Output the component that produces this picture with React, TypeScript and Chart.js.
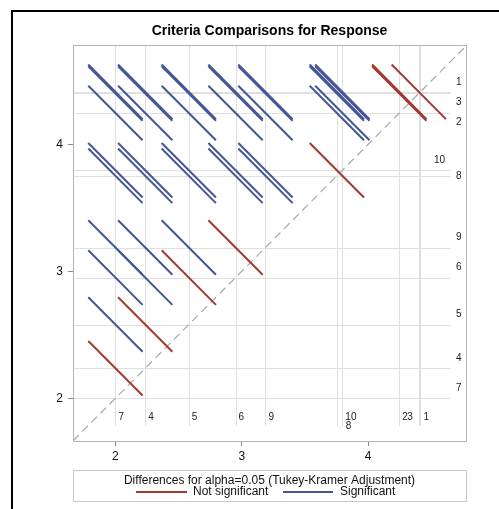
import React, { useEffect, useRef } from 'react';
import { Chart, registerables } from 'chart.js';

Chart.register(...registerables);

// ---- data ----
const groups = ['1', '2', '3', '4', '5', '6', '7', '8', '9', '10'];
const lsMeans = [4.415, 4.248, 4.402, 2.236, 2.581, 2.951, 2.0, 3.753, 3.188, 3.797];
const ciHalfWidth = 0.43; // Tukey-Kramer adjusted half-width of the difference CI
const xRange = [1.664, 4.776];
const yRange = [1.663, 4.784];
const axisTicks = [2, 3, 4];
const titleText = 'Criteria Comparisons for Response';
const legendTitle = 'Differences for alpha=0.05 (Tukey-Kramer Adjustment)';
const legendLabels = ['Not significant', 'Significant'];

const RED = '#A23A2E';
const BLUE = '#445694';
const FONT = '"Liberation Sans", Arial, sans-serif';

// label placement tweaks (layout only)
const bottomLabelShift: Record<string, [number, number]> = {
  '8': [6, 9],
  '3': [-14.5, 0],
};
const rightLabelShift: Record<string, [number, number]> = {
  '10': [-22, -10],
  '8': [0, 0],
  '2': [0, 9],
  '3': [0, 9],
};

function buildDatasets() {
  const sets: any[] = [];
  const half = ciHalfWidth / 2;
  for (let i = 0; i < groups.length; i++) {
    for (let j = i + 1; j < groups.length; j++) {
      const lo = Math.min(lsMeans[i], lsMeans[j]);
      const hi = Math.max(lsMeans[i], lsMeans[j]);
      const sig = hi - lo > ciHalfWidth;
      sets.push({
        label: groups[i] + '-' + groups[j],
        data: [
          { x: lo - half, y: hi + half },
          { x: lo + half, y: hi - half },
        ],
        borderColor: sig ? BLUE : RED,
        backgroundColor: sig ? BLUE : RED,
        borderWidth: 2,
        pointRadius: 0,
        showLine: true,
        order: 1,
      });
    }
  }
  const dMin = Math.max(xRange[0], yRange[0]);
  const dMax = Math.min(xRange[1], yRange[1]);
  sets.push({
    label: 'diag',
    data: [
      { x: dMin, y: dMin },
      { x: dMax, y: dMax },
    ],
    borderColor: '#a8a8a8',
    borderWidth: 1.2,
    borderDash: [8, 5],
    pointRadius: 0,
    showLine: true,
    order: 2,
  });
  return sets;
}

const decorPlugin = {
  id: 'decor',
  beforeDatasetsDraw(chart: any) {
    const { ctx, chartArea: a, scales } = chart;
    ctx.save();
    ctx.strokeStyle = '#e0e0e0';
    ctx.lineWidth = 1;
    lsMeans.forEach((m) => {
      const x = Math.round(scales.x.getPixelForValue(m)) + 0.5;
      const y = Math.round(scales.y.getPixelForValue(m)) + 0.5;
      ctx.beginPath();
      ctx.moveTo(x, a.top);
      ctx.lineTo(x, a.bottom - 15);
      ctx.stroke();
      ctx.beginPath();
      ctx.moveTo(a.left, y);
      ctx.lineTo(a.right - 15, y);
      ctx.stroke();
    });
    ctx.restore();
  },
  afterDatasetsDraw(chart: any) {
    const { ctx, chartArea: a, scales } = chart;
    ctx.save();
    ctx.fillStyle = '#222';
    ctx.font = '10px ' + FONT;
    ctx.textAlign = 'left';
    ctx.textBaseline = 'middle';
    groups.forEach((g, i) => {
      const m = lsMeans[i];
      const x = scales.x.getPixelForValue(m);
      const y = scales.y.getPixelForValue(m);
      const bs = bottomLabelShift[g] || [0, 0];
      ctx.fillText(g, x + 3 + bs[0], a.bottom - 24 + bs[1]);
      const rs = rightLabelShift[g] || [0, -10];
      ctx.fillText(g, a.right - 10 + rs[0], y + rs[1]);
    });
    // plot border
    ctx.strokeStyle = '#b4b4b4';
    ctx.lineWidth = 1;
    ctx.strokeRect(a.left + 0.5, a.top + 0.5, a.right - a.left, a.bottom - a.top);
    ctx.restore();
  },
  afterDraw(chart: any) {
    const { ctx, chartArea: a } = chart;
    ctx.save();
    // outer frame
    ctx.strokeStyle = '#000';
    ctx.lineWidth = 2;
    ctx.beginPath();
    ctx.moveTo(12, 600);
    ctx.lineTo(12, 11);
    ctx.lineTo(600, 11);
    ctx.stroke();
    // title
    const cx = (a.left + a.right) / 2;
    ctx.fillStyle = '#000';
    ctx.font = 'bold 14px ' + FONT;
    ctx.textAlign = 'center';
    ctx.textBaseline = 'middle';
    ctx.fillText(titleText, cx, 31);
    // legend box
    ctx.strokeStyle = '#c8c8c8';
    ctx.lineWidth = 1;
    ctx.strokeRect(a.left + 0.5, 470.5, a.right - a.left, 31);
    ctx.font = '12px ' + FONT;
    ctx.fillStyle = '#111';
    ctx.fillText(legendTitle, cx, 480.5);
    const ly = 492;
    ctx.lineWidth = 2;
    ctx.strokeStyle = RED;
    ctx.beginPath();
    ctx.moveTo(136, ly);
    ctx.lineTo(187, ly);
    ctx.stroke();
    ctx.strokeStyle = BLUE;
    ctx.beginPath();
    ctx.moveTo(283, ly);
    ctx.lineTo(333, ly);
    ctx.stroke();
    ctx.textAlign = 'left';
    ctx.fillText(legendLabels[0], 193, ly);
    ctx.fillText(legendLabels[1], 340, ly);
    ctx.restore();
  },
};

export default function App() {
  const ref = useRef<HTMLCanvasElement>(null);
  useEffect(() => {
    if (!ref.current) return;
    const tickFont = { family: FONT, size: 12 };
    const chart = new Chart(ref.current, {
      type: 'scatter',
      data: { datasets: buildDatasets() },
      options: {
        animation: false,
        responsive: false,
        events: [],
        layout: { padding: { left: 33, right: 33, top: 45, bottom: 43 } },
        plugins: { legend: { display: false }, title: { display: false }, tooltip: { enabled: false } },
        scales: {
          x: {
            type: 'linear',
            min: xRange[0],
            max: xRange[1],
            afterBuildTicks: (s: any) => {
              s.ticks = axisTicks.map((v) => ({ value: v }));
            },
            afterFit: (s: any) => {
              s.height = 25;
            },
            grid: { display: true, drawOnChartArea: false, drawTicks: true, tickLength: 5, color: '#888' },
            border: { display: false },
            ticks: { font: tickFont, color: '#111', padding: 3, callback: (v: any) => String(v) },
          },
          y: {
            type: 'linear',
            min: yRange[0],
            max: yRange[1],
            afterBuildTicks: (s: any) => {
              s.ticks = axisTicks.map((v) => ({ value: v }));
            },
            afterFit: (s: any) => {
              s.width = 40;
            },
            grid: { display: true, drawOnChartArea: false, drawTicks: true, tickLength: 5, color: '#888' },
            border: { display: false },
            ticks: { font: tickFont, color: '#111', padding: 5, callback: (v: any) => String(v) },
          },
        },
      },
      plugins: [decorPlugin],
    });
    return () => chart.destroy();
  }, []);
  return (
    <div style={{ position: 'absolute', left: 0, top: 0, width: 499, height: 509, background: '#fff' }}>
      <canvas ref={ref} width={499} height={509} style={{ width: 499, height: 509, display: 'block' }} />
    </div>
  );
}
